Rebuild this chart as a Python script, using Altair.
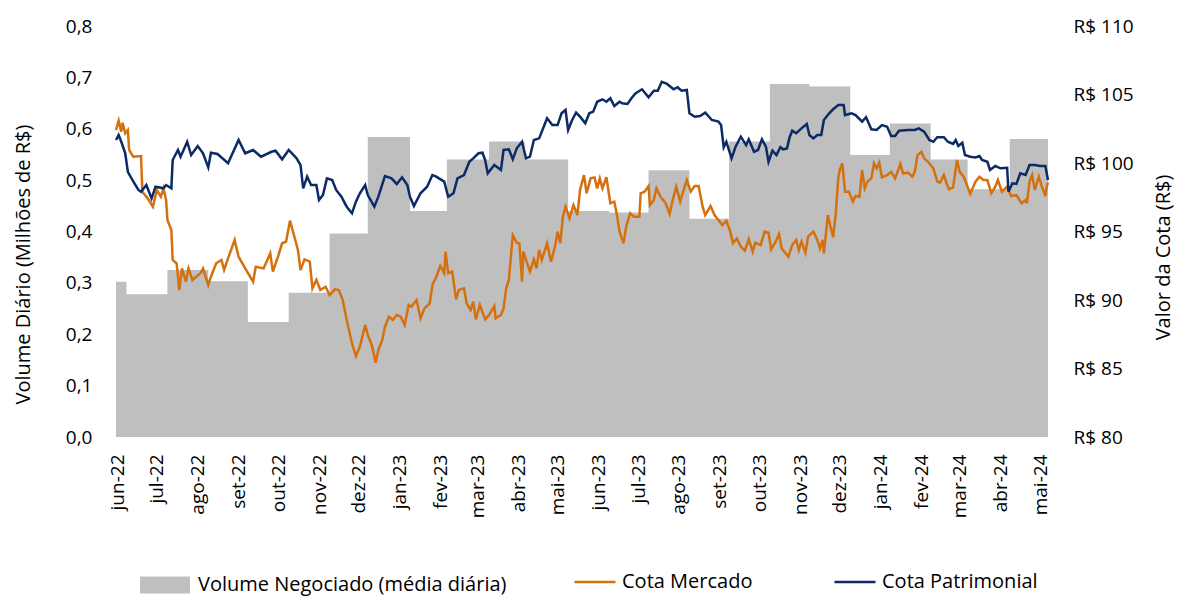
import altair as alt
import pandas as pd

INICIO = "2022-05-31"

# Volume negociado (média diária, R$ milhões) - dia de início de cada patamar
volume_dia = [0, 8, 39, 70, 100, 131, 162, 191, 223, 251, 283, 310, 343, 374, 404,
              435, 465, 496, 526, 557, 587, 618, 646, 678, 707]
volume_valor = [0.302, 0.278, 0.325, 0.303, 0.224, 0.281, 0.396, 0.584, 0.440, 0.540,
                0.575, 0.540, 0.440, 0.437, 0.519, 0.425, 0.575, 0.687, 0.682, 0.549,
                0.610, 0.540, 0.482, 0.580, 0.580]

mercado_dia = [0, 2, 4, 5, 7, 9, 10, 13, 19, 20, 24, 28, 31, 34, 36, 38, 39, 42, 43, 46,
               48, 50, 53, 55, 58, 64, 66, 70, 72, 76, 80, 82, 85, 90, 93, 98, 104, 106,
               112, 117, 119, 123, 126, 129, 132, 136, 138, 140, 143, 147, 149, 152, 155,
               159, 162, 166, 169, 172, 175, 179, 182, 185, 189, 191, 194, 197, 199, 202,
               204, 207, 210, 213, 216, 219, 222, 224, 228, 231, 234, 238, 240, 243, 246,
               249, 250, 252, 255, 258, 260, 264, 266, 269, 271, 273, 276, 280, 283, 287,
               288, 292, 294, 296, 298, 301, 304, 306, 308, 309, 314, 317, 319, 321, 323,
               327, 330, 333, 335, 337, 339, 341, 344, 347, 350, 352, 355, 357, 360, 363,
               365, 367, 369, 372, 375, 378, 380, 382, 385, 387, 390, 393, 397, 398, 401,
               404, 405, 408, 410, 413, 417, 420, 422, 425, 428, 430, 433, 436, 439, 442,
               445, 447, 451, 454, 457, 460, 463, 466, 468, 471, 474, 477, 480, 483, 485,
               489, 492, 495, 497, 500, 503, 505, 510, 513, 516, 518, 520, 523, 525, 529,
               532, 534, 536, 537, 540, 542, 544, 546, 548, 549, 551, 553, 556, 559, 561,
               564, 566, 568, 570, 573, 575, 577, 579, 581, 585, 588, 591, 595, 597, 601,
               604, 606, 608, 611, 613, 616, 620, 623, 625, 628, 630, 632, 635, 638, 640,
               643, 645, 648, 652, 655, 658, 661, 664, 667, 669, 672, 676, 679, 683, 687,
               690, 691, 693, 695, 697, 700, 702, 705, 706, 707]
mercado_valor = [102.41, 103.09, 102.29, 102.94, 102.17, 102.41, 100.95, 100.46, 100.51,
                 97.90, 97.42, 96.81, 98.03, 97.54, 98.15, 97.30, 95.84, 95.11, 92.92,
                 92.68, 90.73, 92.31, 91.34, 92.31, 91.46, 91.95, 92.31, 91.09, 91.70,
                 92.68, 92.92, 92.19, 93.04, 94.38, 93.16, 92.31, 91.34, 92.43, 92.31,
                 93.41, 92.07, 93.20, 94.14, 94.26, 95.79, 94.38, 93.65, 92.19, 92.97,
                 92.80, 90.85, 91.46, 90.73, 90.97, 90.36, 90.78, 90.73, 90.00, 88.54,
                 86.84, 85.91, 86.59, 88.18, 87.45, 86.72, 85.42, 86.35, 87.08, 88.05,
                 88.78, 88.54, 88.91, 88.78, 88.18, 89.64, 89.51, 90.00, 88.66, 89.39,
                 89.76, 91.10, 91.70, 92.50, 91.95, 93.53, 91.95, 92.07, 90.05, 90.73,
                 90.85, 89.76, 89.27, 89.88, 88.59, 89.64, 88.59, 88.91, 89.56, 88.66,
                 88.91, 89.39, 90.85, 91.46, 94.74, 94.18, 94.14, 91.34, 93.53, 92.07,
                 92.97, 92.31, 93.65, 92.92, 94.14, 92.80, 93.89, 94.99, 94.14, 96.08,
                 96.81, 95.96, 96.93, 96.20, 98.03, 99.12, 97.79, 98.88, 98.95, 98.15,
                 98.88, 98.15, 98.96, 97.06, 97.18, 96.20, 94.99, 94.14, 95.35, 96.33,
                 96.08, 96.08, 97.79, 97.91, 98.32, 96.93, 97.30, 98.15, 97.54, 97.06,
                 96.28, 97.18, 98.27, 97.18, 97.84, 98.76, 97.91, 98.32, 98.32, 96.81,
                 96.20, 96.86, 96.20, 95.84, 95.47, 95.79, 94.99, 94.14, 94.50, 93.89,
                 93.60, 94.43, 93.53, 94.18, 94.01, 94.99, 94.91, 93.70, 94.18, 94.82,
                 93.77, 93.16, 94.01, 94.38, 93.65, 94.26, 93.45, 94.62, 94.99, 94.38,
                 93.77, 94.38, 93.41, 96.20, 95.35, 94.58, 96.33, 99.00, 99.49, 99.98,
                 97.90, 97.90, 97.18, 97.59, 97.54, 99.49, 98.15, 98.64, 98.88, 99.98,
                 99.61, 100.03, 98.96, 99.12, 99.36, 98.88, 99.93, 99.25, 99.29, 99.00,
                 99.36, 100.58, 100.82, 100.34, 100.09, 99.61, 98.64, 98.57, 99.12, 98.52,
                 98.08, 98.22, 100.22, 99.36, 99.00, 98.52, 97.74, 98.64, 99.00, 98.76,
                 98.76, 97.79, 98.27, 98.76, 97.90, 98.27, 97.59, 97.66, 97.06, 97.30,
                 97.06, 98.64, 99.12, 98.03, 99.00, 98.39, 97.59, 98.27, 98.57]

patrimonial_dia = [0, 2, 4, 7, 9, 11, 14, 17, 19, 23, 27, 30, 36, 38, 42, 43, 47, 49, 54,
                   57, 62, 66, 70, 72, 77, 85, 93, 98, 104, 110, 118, 121, 126, 131, 137,
                   140, 142, 145, 148, 152, 154, 157, 160, 164, 167, 171, 175, 179, 182,
                   185, 189, 191, 196, 199, 204, 209, 213, 217, 221, 223, 226, 231, 236,
                   240, 243, 245, 249, 252, 256, 259, 264, 268, 271, 275, 278, 280, 282,
                   287, 292, 294, 298, 301, 304, 308, 311, 314, 317, 321, 325, 327, 331,
                   335, 338, 341, 343, 346, 349, 352, 356, 359, 362, 365, 369, 372, 375,
                   378, 382, 384, 388, 391, 394, 399, 404, 408, 411, 414, 418, 423, 426,
                   429, 433, 435, 439, 443, 447, 452, 457, 459, 461, 463, 467, 470, 474,
                   478, 480, 484, 487, 490, 493, 495, 498, 501, 504, 506, 509, 511, 513,
                   516, 520, 524, 526, 529, 532, 535, 537, 541, 544, 548, 552, 553, 558,
                   561, 566, 569, 573, 577, 581, 585, 588, 591, 594, 601, 606, 609, 613,
                   617, 620, 623, 628, 631, 635, 637, 639, 642, 644, 648, 652, 655, 657,
                   661, 663, 667, 671, 676, 677, 680, 683, 686, 690, 693, 697, 701, 705, 707]
patrimonial_valor = [101.68, 102.04, 101.55, 100.71, 99.36, 99.00, 98.52, 98.03, 97.90,
                     98.39, 97.42, 98.27, 98.15, 98.39, 98.15, 100.22, 100.95, 100.46,
                     101.55, 100.58, 101.24, 100.71, 99.68, 100.75, 100.66, 99.98, 101.68,
                     100.71, 100.95, 100.46, 100.82, 100.90, 100.27, 100.95, 100.34, 99.85,
                     98.15, 99.00, 98.39, 98.39, 97.30, 97.66, 98.88, 98.76, 98.03, 97.54,
                     96.81, 96.33, 97.18, 97.79, 98.39, 97.66, 96.81, 97.54, 99.05, 98.88,
                     98.47, 98.96, 98.39, 97.54, 96.86, 97.79, 98.27, 99.12, 99.00, 98.88,
                     98.64, 97.54, 97.79, 98.88, 99.12, 100.09, 100.34, 100.71, 100.75,
                     100.22, 99.25, 99.85, 99.49, 100.95, 101.00, 100.27, 101.07, 101.55,
                     100.34, 100.46, 101.68, 101.80, 102.77, 103.26, 102.77, 102.77, 103.63,
                     103.87, 102.41, 103.14, 103.68, 103.38, 102.90, 103.63, 103.75, 104.47,
                     104.65, 104.47, 104.72, 104.16, 104.47, 104.36, 104.31, 104.72, 105.08,
                     105.38, 104.80, 105.28, 105.28, 105.93, 105.77, 105.38, 105.53, 105.28,
                     105.33, 103.63, 103.38, 103.43, 103.68, 103.14, 103.02, 102.77, 101.15,
                     101.55, 100.34, 101.19, 101.92, 101.31, 101.73, 100.82, 100.95, 101.73,
                     101.20, 100.09, 100.90, 100.58, 101.15, 101.00, 101.07, 101.88, 102.36,
                     102.17, 102.53, 102.85, 102.04, 101.80, 102.04, 102.04, 103.14, 103.63,
                     103.92, 104.23, 104.23, 103.50, 103.63, 103.50, 103.02, 103.34, 102.46,
                     102.41, 102.77, 102.65, 101.97, 101.97, 102.36, 102.41, 102.41, 102.53,
                     102.29, 101.68, 101.55, 101.88, 101.88, 101.55, 101.39, 101.68, 101.24,
                     101.48, 100.58, 100.46, 100.41, 100.51, 100.22, 100.09, 99.49, 99.78,
                     99.61, 99.65, 97.90, 98.52, 98.47, 99.25, 99.12, 99.85, 99.85, 99.78,
                     99.78, 98.76]

meses_pt = ["jan", "fev", "mar", "abr", "mai", "jun", "jul", "ago", "set", "out", "nov", "dez"]

NOME_VOL = "Volume Negociado (média diária)"
NOME_MERC = "Cota Mercado"
NOME_PATR = "Cota Patrimonial"

COR_VOL = "#BFBFBF"
COR_MERC = "#D5700F"
COR_PATR = "#0B2A66"
FONTE = "Open Sans"

inicio = pd.Timestamp(INICIO)


def datas(dias):
    return [inicio + pd.Timedelta(days=d) for d in dias]


df_vol = pd.DataFrame({"data": datas(volume_dia), "valor": volume_valor, "serie": NOME_VOL})
df_cota = pd.concat([
    pd.DataFrame({"data": datas(mercado_dia), "valor": mercado_valor, "serie": NOME_MERC}),
    pd.DataFrame({"data": datas(patrimonial_dia), "valor": patrimonial_valor, "serie": NOME_PATR}),
], ignore_index=True)

fim = inicio + pd.Timedelta(days=max(volume_dia))
dominio_x = [alt.DateTime(year=inicio.year, month=inicio.month, date=inicio.day),
             alt.DateTime(year=fim.year, month=fim.month, date=fim.day)]
ticks_x = [alt.DateTime(year=2022 + (5 + i) // 12, month=(5 + i) % 12 + 1, date=1) for i in range(24)]

expr_mes = "[" + ",".join("'%s'" % m for m in meses_pt) + "][month(datum.value)] + '-' + timeFormat(datum.value, '%y')"

x_enc = alt.X(
    "data:T",
    scale=alt.Scale(domain=dominio_x),
    axis=alt.Axis(values=ticks_x, labelExpr=expr_mes, labelAngle=270, labelPadding=17,
                  title=None, labelFontSize=19),
)

area = alt.Chart(df_vol).mark_area(interpolate="step-after").encode(
    x=x_enc,
    y=alt.Y("valor:Q", scale=alt.Scale(domain=[0, 0.8], nice=False),
            axis=alt.Axis(orient="left", values=[i / 10 for i in range(9)],
                          labelExpr="replace(format(datum.value, '.1f'), '.', ',')",
                          labelPadding=24, title="Volume Diário (Milhões de R$)",
                          titleAngle=270, titleX=-93, titleY=238, titleAlign="center",
                          titleBaseline="middle")),
    fill=alt.Fill("serie:N", scale=alt.Scale(domain=[NOME_VOL], range=[COR_VOL]),
                  legend=alt.Legend(orient="none", legendX=24, legendY=534, title=None,
                                    symbolType="M-1,-0.34L1,-0.34L1,0.34L-1,0.34Z",
                                    symbolSize=2500, symbolStrokeWidth=0, labelOffset=8,
                                    labelLimit=500, padding=0)),
)

linhas = alt.Chart(df_cota).mark_line(strokeWidth=2.5).encode(
    x=x_enc,
    y=alt.Y("valor:Q", scale=alt.Scale(domain=[80, 110], nice=False),
            axis=alt.Axis(orient="right", values=[80, 85, 90, 95, 100, 105, 110],
                          labelExpr="'R$ ' + datum.value", labelPadding=25,
                          title="Valor da Cota (R$)", titleAngle=270, titleX=115,
                          titleY=231, titleAlign="center", titleBaseline="middle")),
    stroke=alt.Stroke("serie:N", scale=alt.Scale(domain=[NOME_MERC, NOME_PATR],
                                                 range=[COR_MERC, COR_PATR]),
                      legend=alt.Legend(orient="none", legendX=457, legendY=534, title=None,
                                        direction="horizontal", columns=2, columnPadding=76,
                                        symbolType="stroke", symbolSize=1681,
                                        symbolStrokeWidth=2.5, labelOffset=5,
                                        labelLimit=500, padding=0)),
    detail="serie:N",
)

chart = alt.layer(area, linhas).resolve_scale(y="independent").properties(
    width=932, height=411,
    autosize=alt.AutoSizeParams(type="none"),
    padding={"left": 108, "top": 18, "right": 127, "bottom": 161},
).configure_axis(
    grid=False, domain=False, ticks=False, tickSize=0,
    labelFont=FONTE, labelFontSize=19, labelColor="#000000",
    titleFont=FONTE, titleFontSize=20, titleFontWeight="normal", titleColor="#000000",
).configure_legend(
    labelFont=FONTE, labelFontSize=20, labelColor="#000000",
).configure_view(stroke=None)

chart.save("out.html", embed_options={"renderer": "svg", "actions": False})
